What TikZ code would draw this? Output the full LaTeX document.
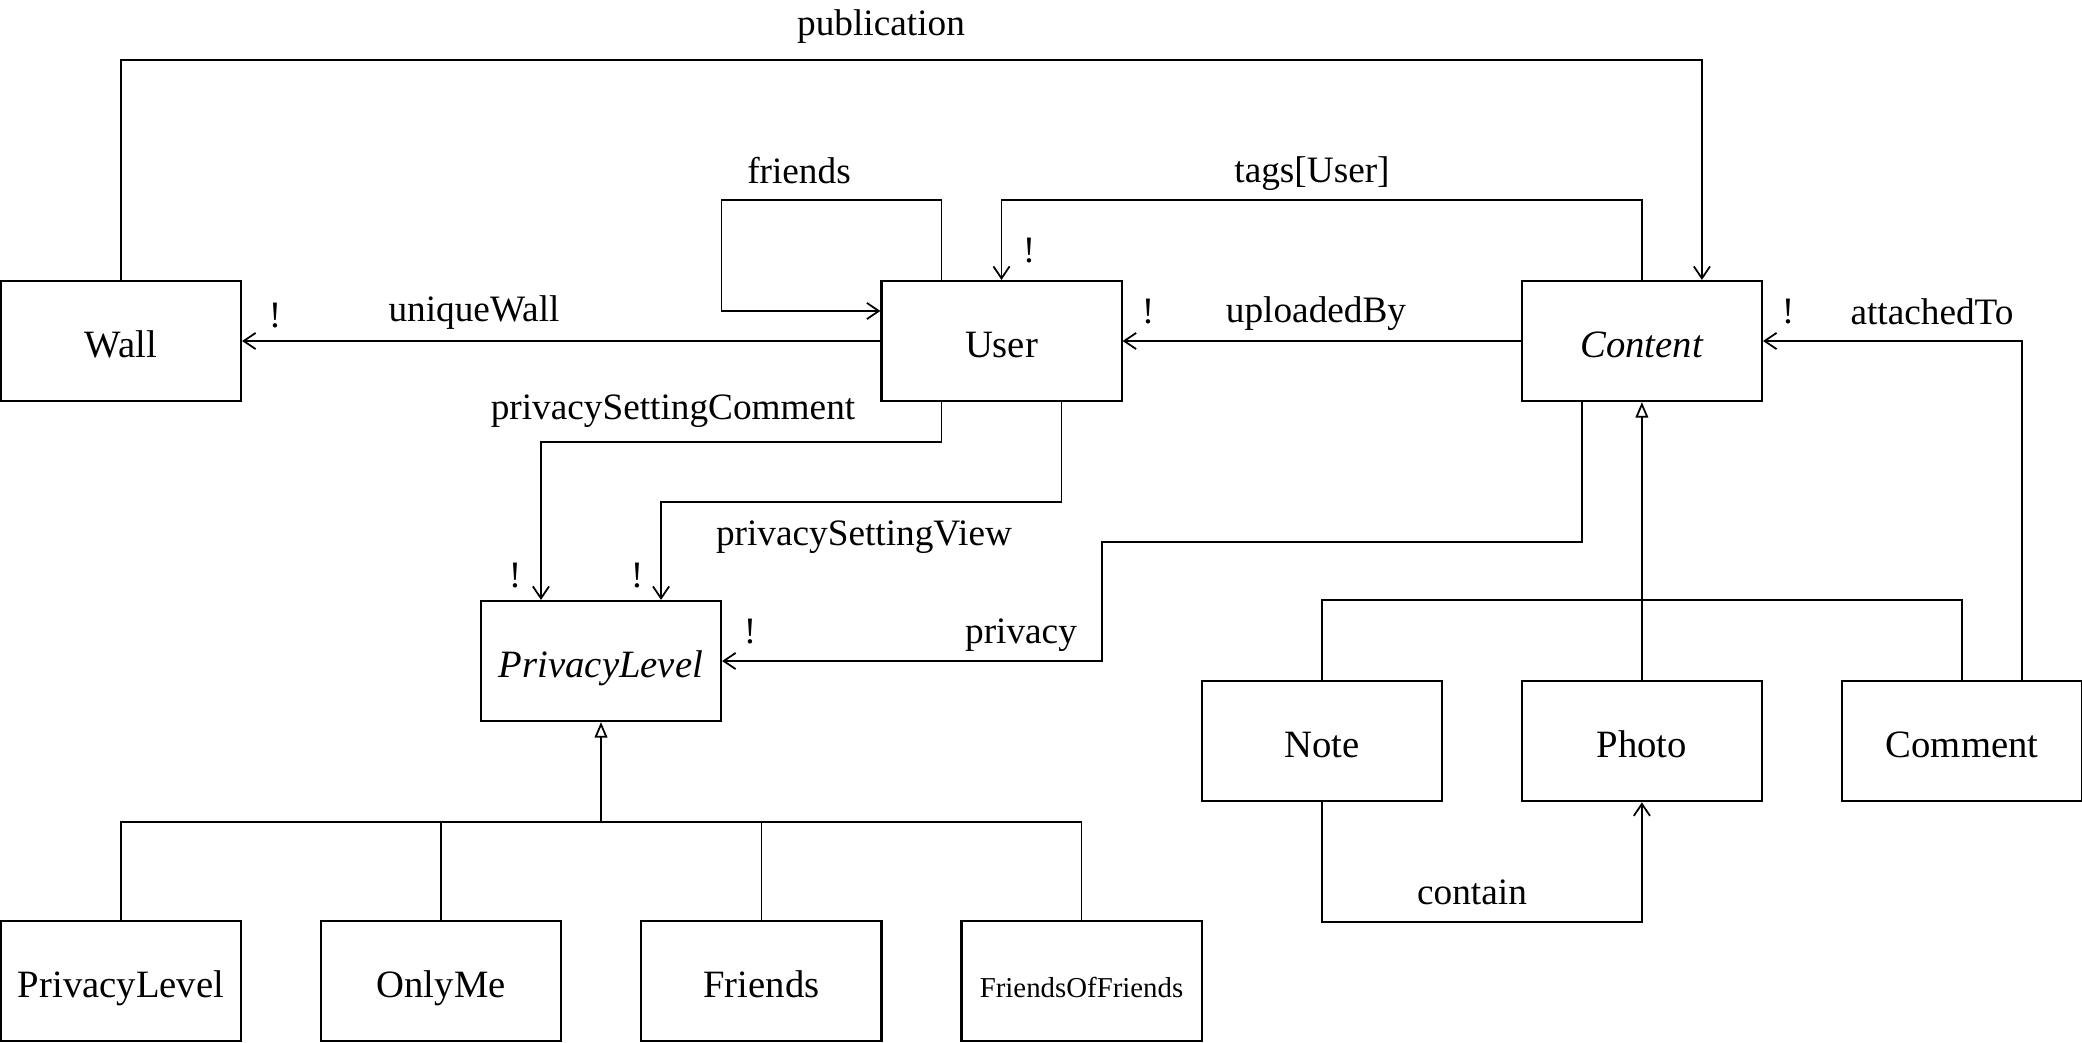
\documentclass[tikz,border=0pt]{standalone}
\usepackage{fontspec}
\setmainfont{Liberation Serif}
\usetikzlibrary{arrows.meta, positioning}

\tikzset{
  cls/.style = {draw, line width=0.6pt, minimum width=2.4cm, minimum height=1.2cm, inner sep=0pt,
    text height=0.4cm, text depth=0.08cm, font=\fontsize{11}{13}\selectfont},
  lbl/.style = {inner sep=0pt, font=\fontsize{10.6}{12}\selectfont},
  assoc/.style = {draw, line width=0.5pt, -{Straight Barb[length=3.4pt,width=4.6pt]}},
  gen/.style = {draw, line width=0.5pt, -{Triangle[open,length=4.4pt,width=3.6pt]}},
  tree/.style = {draw, line width=0.5pt},
}

\begin{document}
\begin{tikzpicture}[x=0.01cm, y=-0.01cm, node distance=3.2cm, on grid]
    \useasboundingbox (-1,-1) rectangle (2081,1041);

    % classes
    \node (wall) [cls] at (120,340) {Wall};
    \node (user) [cls, right=8.8cm of wall] {User};
    \node (content) [cls, right=6.4cm of user] {\textit{Content}};
    \node (plevel) [cls] at (600,660) {\textit{PrivacyLevel}};
    \node (photo) [cls, below=4cm of content] {Photo};
    \node (note) [cls, left=of photo] {Note};
    \node (comment) [cls, right=of photo] {Comment};
    \node (pl) [cls] at (120,980) {PrivacyLevel};
    \node (onlyme) [cls, right=of pl] {OnlyMe};
    \node (friends) [cls, right=of onlyme] {Friends};
    \node (fof) [cls, right=of friends, font=\fontsize{8.2}{10}\selectfont] {FriendsOfFriends};

    % associations
    \path [assoc] (wall.north) -- ++(0,-220) -| ([xshift=0.6cm]content.north);
    \path [assoc] (content.north) -- ++(0,-80) -| (user.north);
    \path [assoc] ([xshift=-0.6cm]user.north) -- ++(0,-80) -- ++(-220,0) |- ([yshift=0.3cm]user.west);
    \path [assoc] (user.west) -- (wall.east);
    \path [assoc] (content.west) -- (user.east);
    \path [assoc] ([xshift=0.6cm]comment.north) |- (content.east);
    \path [assoc] ([xshift=-0.6cm]user.south) -- ++(0,40) -| ([xshift=-0.6cm]plevel.north);
    \path [assoc] ([xshift=0.6cm]user.south) -- ++(0,100) -| ([xshift=0.6cm]plevel.north);
    \path [assoc] ([xshift=-0.6cm]content.south) -- ++(0,140) -- ++(-480,0) |- (plevel.east);
    \path [assoc] (note.south) -- ++(0,120) -| (photo.south);

    % inheritance
    \path [gen] (photo.north) -- (content.south);
    \path [tree] (note.north) -- ++(0,-80) -| (comment.north);
    \coordinate (bus) at ([yshift=-1cm]plevel.south);
    \path [gen] (bus) -- (plevel.south);
    \path [tree] (pl.north) |- (bus) -| (fof.north);
    \path [tree] (onlyme.north) -- (onlyme.north |- bus);
    \path [tree] (friends.north) -- (friends.north |- bus);

    % labels
    \node (lpub) [lbl] at (880,26) {publication};
    \node (lfriends) [lbl] at (798,170) {friends};
    \node (ltags) [lbl] at (1311,173) {tags[User]};
    \node (lwall) [lbl] at (473,312) {uniqueWall};
    \node (lupl) [lbl] at (1315,313) {uploadedBy};
    \node (latt) [lbl] at (1931,311) {attachedTo};
    \node (lcomm) [lbl] at (672,410) {privacySettingComment};
    \node (lview) [lbl] at (863,536) {privacySettingView};
    \node (lpriv) [lbl] at (1020,634) {privacy};
    \node (lcont) [lbl] at (1471,891) {contain};

    % multiplicities
    \node (m1) [lbl] at (274,315) {!};
    \node (m2) [lbl] at (1147,311) {!};
    \node (m3) [lbl] at (1787,311) {!};
    \node (m4) [lbl] at (1028,250) {!};
    \node (m5) [lbl] at (514,575) {!};
    \node (m6) [lbl] at (636,575) {!};
    \node (m7) [lbl] at (749,631) {!};

\end{tikzpicture}
\end{document}
